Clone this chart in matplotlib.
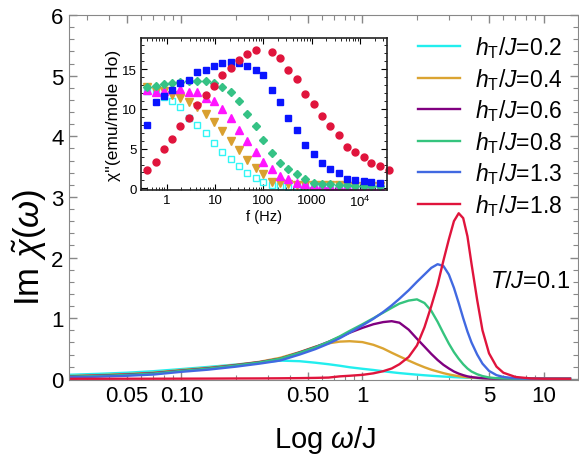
import numpy as np
import matplotlib.pyplot as plt
from matplotlib.ticker import FixedLocator, NullFormatter

plt.rcParams['font.family'] = ['Liberation Sans', 'DejaVu Sans']
plt.rcParams['mathtext.fontset'] = 'custom'
plt.rcParams['mathtext.rm'] = 'Liberation Sans'
plt.rcParams['mathtext.it'] = 'Liberation Sans:italic'

# main plot: Im chi(omega)
omega = [0.024, 0.035, 0.05, 0.07, 0.1, 0.14, 0.2, 0.27, 0.35, 0.45, 0.55, 0.65, 0.75, 0.85,
         1.0, 1.15, 1.3, 1.45, 1.6, 1.8, 2.0, 2.2, 2.4, 2.6, 2.8, 3.0, 3.2, 3.4, 3.6, 3.8,
         4.0, 4.3, 4.6, 5.0, 5.5, 6.0, 7.0, 8.5, 10.0, 14.0]
h02 = [0.066, 0.082, 0.1, 0.125, 0.16, 0.195, 0.235, 0.27, 0.3, 0.29, 0.265, 0.24, 0.215, 0.19,
       0.165, 0.145, 0.125, 0.108, 0.094, 0.08, 0.068, 0.058, 0.05, 0.043, 0.037, 0.032, 0.027, 0.023, 0.02, 0.017,
       0.015, 0.012, 0.01, 0.007, 0.005, 0.004, 0.002, 0.001, 0.0, 0.0]
h04 = [0.045, 0.06, 0.078, 0.1, 0.145, 0.18, 0.23, 0.28, 0.345, 0.44, 0.53, 0.585, 0.613, 0.62,
       0.605, 0.56, 0.5, 0.43, 0.37, 0.3, 0.24, 0.19, 0.15, 0.12, 0.093, 0.072, 0.056, 0.043, 0.033, 0.025,
       0.019, 0.013, 0.009, 0.006, 0.003, 0.002, 0.001, 0.0, 0.0, 0.0]
h06 = [0.04, 0.053, 0.07, 0.093, 0.135, 0.172, 0.225, 0.275, 0.33, 0.435, 0.525, 0.61, 0.69, 0.76,
       0.84, 0.9, 0.935, 0.95, 0.925, 0.81, 0.66, 0.53, 0.41, 0.31, 0.23, 0.17, 0.12, 0.085, 0.06, 0.04,
       0.028, 0.017, 0.01, 0.005, 0.002, 0.001, 0.0, 0.0, 0.0, 0.0]
h08 = [0.035, 0.047, 0.063, 0.086, 0.13, 0.167, 0.22, 0.27, 0.33, 0.43, 0.52, 0.61, 0.7, 0.79,
       0.9, 1.0, 1.09, 1.17, 1.24, 1.29, 1.31, 1.25, 1.12, 0.94, 0.75, 0.58, 0.44, 0.33, 0.24, 0.17,
       0.12, 0.075, 0.045, 0.022, 0.01, 0.005, 0.001, 0.0, 0.0, 0.0]
h13 = [0.025, 0.035, 0.05, 0.07, 0.115, 0.15, 0.2, 0.25, 0.3, 0.4, 0.49, 0.58, 0.67, 0.76,
       0.88, 0.99, 1.1, 1.21, 1.32, 1.46, 1.6, 1.72, 1.83, 1.89, 1.86, 1.72, 1.5, 1.25, 1.0, 0.78,
       0.6, 0.4, 0.25, 0.13, 0.06, 0.03, 0.008, 0.002, 0.0, 0.0]
h18 = [0.0, 0.0, 0.001, 0.001, 0.002, 0.003, 0.005, 0.006, 0.008, 0.011, 0.015, 0.02, 0.04, 0.05,
       0.065, 0.09, 0.125, 0.17, 0.24, 0.36, 0.55, 0.85, 1.2, 1.55, 1.95, 2.3, 2.6, 2.73, 2.65, 2.35,
       1.9, 1.3, 0.8, 0.42, 0.2, 0.1, 0.03, 0.006, 0.001, 0.0]
curve_labels = ['0.2', '0.4', '0.6', '0.8', '1.3', '1.8']
curve_colors = ['#22eeee', '#dba432', '#800080', '#35c47e', '#4169e1', '#e0143c']

# inset: chi'' (emu/mole Ho) vs f (Hz)
freq = [0.4, 0.6, 0.9, 1.3, 1.9, 2.9, 4.3, 6.4, 9.5, 14, 21, 31, 46, 69, 100, 150, 220, 330,
        500, 740, 1100, 1600, 2400, 3600, 5400, 7900, 12000, 17000, 26000, 39000]
nan = np.nan
chi_cyan = [12.2, 12.2, 11.5, 11.0, 10.2, 8.9, 8.0, 7.0, 5.7, 4.6, 3.7, 2.8, 1.95, 1.3, 0.8, 0.4, 0.3, 0.2,
            0.2, 0.2, 0.15, 0.15, 0.15, 0.15, 0.15, 0.15, 0.15, 0.15, 0.15, nan]
chi_gold = [12.7, 12.3, 12.3, 11.7, 11.4, 10.8, 10.2, 9.3, 8.3, 7.2, 6.0, 4.8, 3.6, 2.6, 1.76, 0.8, 0.63, 0.5,
            0.42, 0.4, 0.4, 0.4, 0.38, 0.38, 0.35, 0.35, 0.35, 0.35, 0.35, nan]
chi_magenta = [12.4, 12.1, 12.3, 12.5, 12.5, 12.1, 12.1, 11.4, 11.0, 10.0, 8.8, 7.35, 6.0, 4.6, 3.3, 2.4, 1.55, 1.13,
               0.71, 0.5, 0.45, 0.4, 0.35, 0.3, 0.25, 0.2, 0.2, 0.2, 0.2, nan]
chi_green = [12.7, 12.9, 13.1, 13.2, 13.35, 13.45, 13.5, 13.5, 13.3, 12.8, 12.1, 11.0, 9.4, 7.8, 6.1, 4.5, 3.2, 2.4,
             1.76, 1.2, 0.7, 0.6, 0.5, 0.45, 0.4, 0.35, 0.35, 0.3, 0.3, nan]
chi_blue = [8.0, 10.8, 11.6, 12.4, 13.2, 13.6, 14.6, 14.9, 15.4, 15.8, 15.9, 15.8, 15.4, 14.9, 14.3, 12.4, 10.9, 8.8,
            7.3, 5.5, 4.3, 3.2, 2.5, 1.9, 1.2, 1.1, 0.95, 0.75, 0.65, nan]
chi_red = [2.3, 3.3, 5.0, 6.2, 7.8, 8.9, 10.5, 11.8, 12.9, 14.2, 15.1, 16.1, 16.9, 17.4, nan, 17.1, 16.4, 14.9,
           13.7, 11.9, 10.6, 9.1, 7.9, 6.7, 5.2, 4.6, 3.9, 3.15, 2.8, 2.3]

fig = plt.figure(figsize=(5.79, 4.60), dpi=100)
ax = fig.add_axes([68.5/579, 79/460, 509.5/579, 365/460])

curves = [h02, h04, h06, h08, h13, h18]
for y, lab, c in zip(curves, curve_labels, curve_colors):
    ax.plot(omega, y, color=c, lw=1.7, label=r'$h_{\mathrm{T}}/J$=' + lab)

ax.set_xscale('log')
ax.set_xlim(0.0238, 15.5)
ax.set_ylim(-0.02, 6)
major = [0.05, 0.1, 0.5, 1, 5, 10]
minor = [k * 10.0**e for e in range(-2, 2) for k in range(1, 10)]
minor = [m for m in minor if not any(abs(m - M) < 1e-9 for M in major)]
ax.xaxis.set_major_locator(FixedLocator(major))
ax.xaxis.set_minor_locator(FixedLocator(minor))
ax.xaxis.set_minor_formatter(NullFormatter())
ax.set_xticklabels(['0.05', '0.10', '0.50', '1', '5', '10'])
ax.yaxis.set_major_locator(FixedLocator([0, 1, 2, 3, 4, 5, 6]))
ax.yaxis.set_minor_locator(FixedLocator(np.arange(0, 6.01, 0.2)))
ax.tick_params(which='both', direction='in', top=True, right=True, colors='#888888',
               labelcolor='black', labelsize=16)
ax.tick_params(which='major', length=6, width=1)
ax.tick_params(which='minor', length=3.5, width=0.8)
for s in ax.spines.values():
    s.set_color('#888888')

ax.set_xlabel(r'Log $\omega$/J', fontsize=21)
ax.set_ylabel(r'Im $\tilde{\chi}(\omega)$', fontsize=25)
ax.xaxis.set_label_coords(0.503, -0.162)
ax.xaxis.label.set_verticalalignment('center')
ax.yaxis.set_label_coords(-0.076, 0.367)
ax.yaxis.label.set_verticalalignment('center')

ax.text(0.985, 0.27, r'$T/J$=0.1', transform=ax.transAxes, ha='right', va='center', fontsize=17)

ax.legend(loc='upper left', bbox_to_anchor=(418/579, 1 - 35/460), bbox_transform=fig.transFigure,
          frameon=False, fontsize=16.5, handlelength=1.85, handletextpad=0.65, labelspacing=0.25,
          borderpad=0, borderaxespad=0)

# inset
ins = fig.add_axes([141/579, (460-191)/460, 246/579, 152/460])
ins.plot(freq, chi_cyan, 's', ms=4.5, mfc='none', mec='#33f5f5', mew=1.0)
ins.plot(freq, chi_gold, 'v', ms=5.5, color='#d9a030')
ins.plot(freq, chi_magenta, '^', ms=5.5, color='#ff14ff')
ins.plot(freq, chi_green, 'D', ms=4.5, color='#35c285')
ins.plot(freq, chi_blue, 's', ms=5, color='#0a14ff')
ins.plot(freq, chi_red, 'o', ms=5, color='#e0143c', clip_on=False)
ins.set_xscale('log')
ins.set_xlim(0.294, 3.6e4)
ins.set_ylim(-0.2, 18.9)
ins.xaxis.set_major_locator(FixedLocator([1, 10, 100, 1000, 1e4]))
ins.set_xticklabels(['1', '10', '100', '1000', r'$10^4$'])
ins.xaxis.set_minor_locator(FixedLocator([k * 10.0**e for e in range(-1, 5) for k in range(2, 10)]))
ins.xaxis.set_minor_formatter(NullFormatter())
ins.yaxis.set_major_locator(FixedLocator([0, 5, 10, 15]))
ins.yaxis.set_minor_locator(FixedLocator(np.arange(0, 19, 1)))
ins.tick_params(which='both', direction='in', top=True, right=True, labelsize=9.5, pad=3)
ins.tick_params(which='major', length=4)
ins.tick_params(which='minor', length=2)
for s in ins.spines.values():
    s.set_linewidth(1.2)
    s.set_color('#222222')
ins.set_xlabel('f (Hz)', fontsize=10.5, labelpad=0)
ins.set_ylabel("\u03c7''(emu/mole Ho)", fontsize=12.5, labelpad=1)

fig.savefig('out.png', dpi=100)
